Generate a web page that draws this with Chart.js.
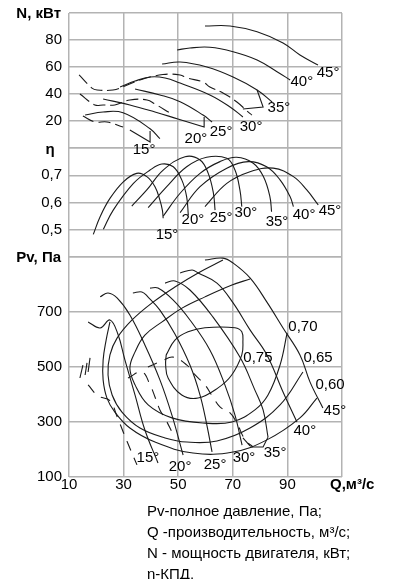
<!DOCTYPE html>
<html><head><meta charset="utf-8">
<script src="https://cdn.jsdelivr.net/npm/chart.js@4.4.0/dist/chart.umd.min.js"></script>
<style>
html,body{margin:0;padding:0;background:#fff;}
#wrap{position:relative;width:397px;height:579px;overflow:hidden;}
#note{position:absolute;left:147px;top:500px;font:15px "Liberation Sans",Arial,sans-serif;line-height:21px;color:#000;white-space:nowrap;}
</style></head><body>
<div id="wrap"><canvas id="c" width="397" height="579"></canvas>
<div id="note">Pv-полное давление, Па;<br>Q -производительность, м³/с;<br>N - мощность двигателя, кВт;<br>η-КПД.</div></div>
<script>
// ---- axis ticks ----
const X_TICKS = [10, 30, 50, 70, 90, 110];
const N_TICKS = [0, 20, 40, 60, 80, 100];
const E_TICKS = [0.4, 0.5, 0.6, 0.7, 0.8];
const P_TICKS = [100, 300, 500, 700, 900];
const ANGLES = ['15°', '20°', '25°', '30°', '35°', '40°', '45°'];

// ---- power N, kW ----
const N45_Q = [59.8, 69.0, 78.9, 88.4, 94.6, 101.2];
const N45_V = [90.4, 90.4, 86.1, 77.8, 68.9, 61.5];
const N40_Q = [49.6, 54.3, 61.6, 70.1, 78.9, 86.2, 91.0];
const N40_V = [72.6, 74.1, 74.6, 71.3, 65.2, 56.5, 50.4];
const N35_Q = [44.1, 50.7, 60.5, 70.1, 78.9, 84.4];
const N35_V = [62.2, 63.7, 60.0, 52.6, 43.0, 34.1];
const N35L_Q = [78.9, 81.1, 73.7];
const N35L_V = [43.0, 30.4, 28.9];
const N30_Q = [28.7, 34.2, 39.7, 45.2, 50.7, 61.6, 69.0, 73.7];
const N30_V = [45.2, 49.6, 52.6, 51.9, 48.1, 39.3, 30.4, 23.0];
const N30D_Q = [13.7, 18.4, 20.3, 26.1, 30.5, 36.0, 44.4, 50.7, 53.2, 59.1, 61.6, 66.4, 71.5, 75.6, 77.0];
const N30D_V = [54.1, 44.4, 43.0, 43.0, 45.9, 50.4, 54.4, 54.1, 51.9, 48.9, 45.2, 40.7, 34.1, 26.7, 24.4];
const N25_Q = [34.2, 43.3, 50.7, 59.1, 62.4];
const N25_V = [43.7, 39.3, 34.3, 24.4, 19.3];
const N25D_Q = [14.0, 19.5, 22.5, 26.8, 32.3, 38.6, 41.5, 47.0];
const N25D_V = [40.0, 31.9, 31.9, 31.9, 35.6, 35.6, 32.6, 25.9];
const N20_Q = [22.5, 32.3, 41.5, 49.9];
const N20_V = [36.3, 31.9, 26.7, 21.5];
const N20L_Q = [49.9, 59.5, 59.5];
const N20L_V = [21.5, 15.6, 23.0];
const N15_Q = [15.9, 22.5, 29.8, 39.7, 43.3];
const N15_V = [24.4, 26.7, 26.1, 14.3, 6.9];
const N15D_Q = [15.1, 19.5, 23.9, 29.8];
const N15D_V = [23.7, 19.3, 19.3, 15.6];
const N15L_Q = [32.3, 39.7, 39.7];
const N15L_V = [13.3, 4.4, 12.6];
const NLAB_Q = [37.5, 56.5, 65.7, 76.7, 86.9, 95.3, 104.9];
const NLAB_V = [-1.5, 6.7, 11.9, 15.6, 29.6, 48.9, 55.6];

// ---- efficiency eta ----
const E15_Q = [18.9, 21.4, 25.0, 29.9, 34.8, 38.5, 41.5, 43.3, 44.2, 44.5];
const E15_V = [0.483, 0.548, 0.615, 0.676, 0.707, 0.695, 0.658, 0.609, 0.572, 0.542];
const E20_Q = [22.6, 26.2, 33.6, 39.7, 44.0, 48.2, 51.3, 53.1, 53.7];
const E20_V = [0.502, 0.572, 0.670, 0.719, 0.741, 0.731, 0.683, 0.621, 0.554];
const E25_Q = [33.0, 38.5, 44.5, 52.5, 58.0, 61.0, 62.9, 63.5];
const E25_V = [0.587, 0.646, 0.719, 0.768, 0.756, 0.707, 0.634, 0.572];
const E30_Q = [39.0, 45.8, 53.1, 60.4, 67.8, 70.8, 72.6, 73.3];
const E30_V = [0.581, 0.658, 0.731, 0.766, 0.762, 0.719, 0.646, 0.585];
const E35_Q = [44.5, 50.7, 58.0, 65.3, 71.4, 77.5, 81.2, 83.6, 84.2];
const E35_V = [0.550, 0.634, 0.707, 0.750, 0.766, 0.744, 0.695, 0.621, 0.566];
const E40_Q = [50.7, 58.0, 67.8, 75.7, 82.4, 87.3, 91.0, 92.2];
const E40_V = [0.563, 0.658, 0.726, 0.750, 0.731, 0.683, 0.621, 0.585];
const E45_Q = [59.8, 67.8, 76.3, 84.8, 92.2, 97.1, 101.3];
const E45_V = [0.585, 0.670, 0.713, 0.726, 0.695, 0.646, 0.591];
const ELAB_Q = [45.9, 55.4, 65.7, 74.8, 86.2, 96.1, 105.6];
const ELAB_V = [0.481, 0.536, 0.543, 0.561, 0.528, 0.554, 0.569];

// ---- pressure Pv, Pa ----
const P45_Q = [59.8, 66.4, 70.1, 76.3, 82.5, 88.4, 94.6, 98.3, 103.0];
const P45_V = [889, 896, 878, 824, 736, 642, 544, 445, 351];
const P40_Q = [50.7, 55.1, 57.3, 64.2, 70.1, 76.3, 82.5, 88.4, 93.5];
const P40_V = [842, 853, 842, 805, 733, 635, 544, 409, 300];
const P35_Q = [45.2, 48.8, 54.3, 62.7, 72.6, 78.1, 81.1, 82.9];
const P35_V = [805, 813, 780, 682, 536, 416, 344, 245];
const P35L_Q = [82.9, 81.1, 76.3];
const P35L_V = [245, 209, 209];
const P35S_Q = [73.7, 76.3];
const P35S_V = [242, 213];
const P30_Q = [39.7, 42.6, 48.1, 54.3, 61.6, 67.1, 70.8, 73.4];
const P30_V = [787, 787, 744, 671, 562, 435, 325, 216];
const P25_Q = [33.4, 36.7, 38.9, 43.3, 48.8, 54.3, 58.0, 60.5, 62.4];
const P25_V = [769, 773, 755, 707, 620, 507, 398, 289, 191];
const P20_Q = [21.4, 24.3, 27.6, 32.3, 37.8, 43.3, 47.7, 51.8];
const P20_V = [755, 769, 751, 689, 580, 453, 325, 180];
const P15_Q = [17.0, 21.4, 25.0, 27.9, 30.5, 34.2, 37.8, 42.6];
const P15_V = [664, 642, 671, 620, 525, 398, 271, 151];
const PLAB_Q = [38.9, 50.7, 63.5, 74.1, 85.5, 96.4, 107.4];
const PLAB_V = [169, 136, 144, 169, 187, 267, 340];

// efficiency contours on the pressure field
const C75_Q = [45.6, 48.8, 53.6, 59.8, 70.8, 73.3, 73.7, 73.3, 69.6, 64.6, 57.3, 51.3, 46.3, 45.4, 45.6];
const C75_V = [544, 598, 628, 643, 643, 628, 592, 544, 471, 424, 387, 398, 460, 507, 544];
const C70_Q = [76.3, 69.7, 59.8, 51.4, 44.1, 37.8, 34.2, 32.3, 34.2, 39.0, 47.7, 59.8, 69.7, 78.1, 82.9, 87.3, 89.9];
const C70_V = [820, 798, 755, 714, 664, 616, 555, 496, 435, 362, 315, 296, 300, 344, 398, 507, 624];
const C65_Q = [66.4, 57.3, 48.8, 40.4, 33.1, 27.6, 25.0, 24.3, 25.8, 29.4, 36.0, 45.2, 53.2, 64.2, 76.3, 87.3, 95.7];
const C65_V = [889, 842, 791, 733, 671, 605, 544, 471, 398, 336, 278, 242, 227, 231, 278, 362, 482];
const C60_Q = [25.0, 23.6, 22.5, 22.5, 23.9, 26.8, 32.3, 41.5, 55.4, 70.1, 82.5, 94.6, 100.8];
const C60_V = [664, 598, 525, 453, 387, 336, 278, 227, 187, 191, 235, 315, 387];
const CLAB = ['0,75', '0,70', '0,65', '0,60'];
const CLAB_Q = [79.2, 95.7, 101.2, 105.6];
const CLAB_V = [533, 645, 533, 435];

// dashed (unstable zone) lines
const PD1_Q = [17.0, 20.6, 25.0, 27.6, 30.0, 32.5, 34.9];
const PD1_V = [435, 395, 378, 320, 260, 200, 144];
const PD2_Q = [38.9, 44.1, 48.1, 53.2, 56.2, 59.8, 62.7, 65.3, 69.0, 71.5, 74.5, 77.4];
const PD2_V = [500, 522, 536, 507, 471, 435, 391, 355, 333, 296, 235, 209];
const PD3_Q = [31.6, 36.7, 39.7, 41.5, 43.3, 45.5, 47.7];
const PD3_V = [460, 482, 435, 391, 344, 307, 264];
const SL1_Q = [14.0, 15.1], SL1_V = [460, 507];
const SL2_Q = [15.9, 16.6], SL2_V = [471, 515];
const SL3_Q = [17.0, 17.7], SL3_V = [482, 533];

const FAMILY = '"Liberation Sans", Arial, sans-serif';
const INK = '#1a1a1a';

function pts(q, v) { return q.map((x, i) => ({ x: x, y: v[i] })); }
function line(q, v, axis, opt) {
  return Object.assign({
    data: pts(q, v), yAxisID: axis, xAxisID: 'x', showLine: true,
    pointRadius: 0, borderColor: INK, borderWidth: 1.1, tension: 0.4, fill: false
  }, opt || {});
}
const DASH = { borderDash: [12, 5] };
const DASH2 = { borderDash: [10, 8] };
const SHARP = { tension: 0 };

const datasets = [
  line(N45_Q, N45_V, 'yN'), line(N40_Q, N40_V, 'yN'), line(N35_Q, N35_V, 'yN'),
  line(N35L_Q, N35L_V, 'yN', SHARP), line(N30_Q, N30_V, 'yN'), line(N30D_Q, N30D_V, 'yN', DASH),
  line(N25_Q, N25_V, 'yN'), line(N25D_Q, N25D_V, 'yN', DASH), line(N20_Q, N20_V, 'yN'),
  line(N20L_Q, N20L_V, 'yN', SHARP), line(N15_Q, N15_V, 'yN'), line(N15D_Q, N15D_V, 'yN', DASH),
  line(N15L_Q, N15L_V, 'yN', SHARP),
  line(E15_Q, E15_V, 'yE'), line(E20_Q, E20_V, 'yE'), line(E25_Q, E25_V, 'yE'), line(E30_Q, E30_V, 'yE'),
  line(E35_Q, E35_V, 'yE'), line(E40_Q, E40_V, 'yE'), line(E45_Q, E45_V, 'yE'),
  line(P45_Q, P45_V, 'yP'), line(P40_Q, P40_V, 'yP'), line(P35_Q, P35_V, 'yP'),
  line(P35L_Q, P35L_V, 'yP', SHARP), line(P35S_Q, P35S_V, 'yP', SHARP),
  line(P30_Q, P30_V, 'yP'), line(P25_Q, P25_V, 'yP'), line(P20_Q, P20_V, 'yP'), line(P15_Q, P15_V, 'yP'),
  line(C75_Q, C75_V, 'yP'), line(C70_Q, C70_V, 'yP'), line(C65_Q, C65_V, 'yP'), line(C60_Q, C60_V, 'yP'),
  line(PD1_Q, PD1_V, 'yP', DASH2), line(PD2_Q, PD2_V, 'yP', DASH2), line(PD3_Q, PD3_V, 'yP', DASH2),
  line(SL1_Q, SL1_V, 'yP', SHARP), line(SL2_Q, SL2_V, 'yP', SHARP), line(SL3_Q, SL3_V, 'yP', SHARP)
];

const annot = {
  id: 'annot',
  afterDatasetsDraw(chart) {
    const c = chart.ctx, sx = chart.scales.x, S = chart.scales;
    c.save();
    c.fillStyle = '#000';
    c.textAlign = 'center';
    c.textBaseline = 'middle';
    c.font = '15px ' + FAMILY;
    ANGLES.forEach((t, i) => {
      c.fillText(t, sx.getPixelForValue(NLAB_Q[i]), S.yN.getPixelForValue(NLAB_V[i]));
      c.fillText(t, sx.getPixelForValue(ELAB_Q[i]), S.yE.getPixelForValue(ELAB_V[i]));
      c.fillText(t, sx.getPixelForValue(PLAB_Q[i]), S.yP.getPixelForValue(PLAB_V[i]));
    });
    CLAB.forEach((t, i) => c.fillText(t, sx.getPixelForValue(CLAB_Q[i]), S.yP.getPixelForValue(CLAB_V[i])));
    c.font = 'bold 15px ' + FAMILY;
    c.textAlign = 'right';
    const lx = chart.chartArea.left - 8;
    c.fillText('N, кВт', lx, S.yN.getPixelForValue(100) + 1);
    c.fillText('Pv, Па', lx, S.yP.getPixelForValue(900) + 1);
    c.textAlign = 'center';
    c.fillText('η', lx - 11, S.yE.getPixelForValue(0.8) + 2);
    c.textAlign = 'left';
    c.fillText('Q,м³/с', sx.getPixelForValue(110) - 12, chart.chartArea.bottom + 8);
    c.restore();
  }
};

function yAxis(min, max, list, weight, fmt) {
  return {
    type: 'linear', position: 'left', stack: 'panels', stackWeight: weight, min: min, max: max,
    afterBuildTicks: s => { s.ticks = list.map(v => ({ value: v })); },
    afterFit: s => { s.width = 60; s.paddingTop = 0; s.paddingBottom = 0; },
    ticks: { callback: fmt, font: { size: 15, family: FAMILY }, color: '#000', padding: 7, autoSkip: false },
    grid: { color: '#b3b3b3', lineWidth: 1.5, drawTicks: false },
    border: { display: false }
  };
}

new Chart(document.getElementById('c'), {
  type: 'scatter',
  data: { datasets: datasets },
  options: {
    responsive: false, animation: false, devicePixelRatio: 1,
    layout: { padding: { left: 9, right: 55, top: 13, bottom: 84 } },
    plugins: { legend: { display: false }, tooltip: { enabled: false } },
    scales: {
      x: {
        type: 'linear', position: 'bottom', min: 10, max: 110,
        afterBuildTicks: s => { s.ticks = X_TICKS.map(v => ({ value: v })); },
        afterFit: s => { s.height = 18; s.paddingLeft = 0; s.paddingRight = 0; },
        ticks: { callback: v => (v === 110 ? '' : String(v)), font: { size: 15, family: FAMILY }, color: '#000', padding: -1, maxRotation: 0, autoSkip: false },
        grid: { color: '#b3b3b3', lineWidth: 1.5, drawTicks: false },
        border: { display: false }
      },
      yP: yAxis(100, 900, P_TICKS, 220, v => (v === 900 ? '' : String(v))),
      yE: yAxis(0.4, 0.8, E_TICKS, 109, v => (v < 0.45 || v > 0.75 ? '' : v.toFixed(1).replace('.', ','))),
      yN: yAxis(0, 100, N_TICKS, 135, v => (v === 0 || v === 100 ? '' : String(v)))
    }
  },
  plugins: [annot]
});
</script>
</body></html>
